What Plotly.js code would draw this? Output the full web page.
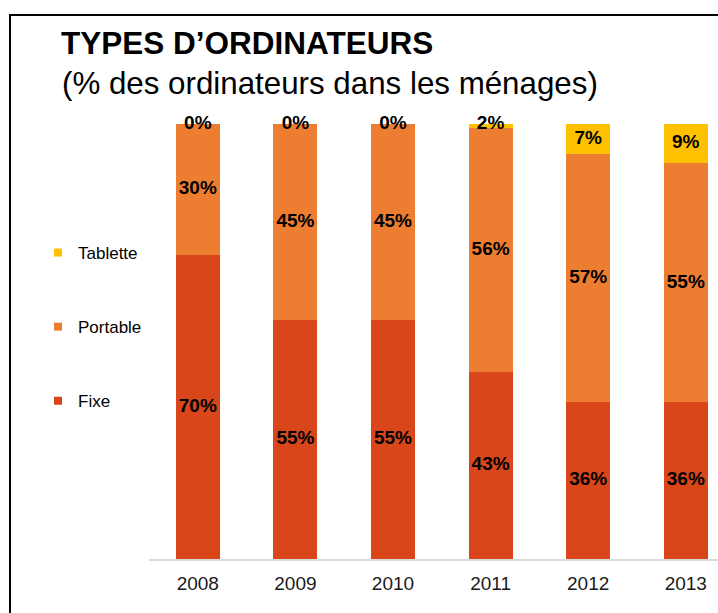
<!DOCTYPE html>
<html>
<head>
<meta charset="utf-8">
<script src="https://cdn.plot.ly/plotly-3.0.1.min.js"></script>
<style>
  html, body { margin: 0; padding: 0; background: #fff; overflow: hidden; }
  #wrap { position: relative; width: 718px; height: 613px; overflow: hidden; }
  #chart { position: absolute; left: 0; top: 0; width: 718px; height: 613px; }
  #frame { position: absolute; left: 9px; top: 14px; width: 800px; height: 700px;
           border-top: 2px solid #000; border-left: 2px solid #000; pointer-events: none; }
</style>
</head>
<body>
<div id="wrap">
  <div id="chart"></div>
  <div id="frame"></div>
</div>
<script>
// ---- data ----
const years = ['2008', '2009', '2010', '2011', '2012', '2013'];
const fixe = [70, 55, 55, 43, 36, 36];
const portable = [30, 45, 45, 56, 57, 55];
const tablette = [0, 0, 0, 2, 7, 9];
const seriesNames = ['Fixe', 'Portable', 'Tablette'];
const seriesColors = ['#D9461A', '#ED7D31', '#FFC000'];

const titleText = 'TYPES D\u2019ORDINATEURS';
const subtitleText = '(% des ordinateurs dans les m\u00e9nages)';

const sans = 'Liberation Sans, Arial, sans-serif';

// ---- derived ----
const series = [fixe, portable, tablette];
const traces = [];
const base = years.map(() => 0);
series.forEach((vals, i) => {
  traces.push({
    type: 'bar', x: years, y: vals, name: seriesNames[i],
    marker: { color: seriesColors[i] }, width: 0.45,
    showlegend: false, hoverinfo: 'skip'
  });
});
// data labels centred in each segment
series.forEach((vals, i) => {
  const centres = vals.map((v, j) => base[j] + v / 2);
  vals.forEach((v, j) => { base[j] += v; });
  traces.push({
    type: 'scatter', mode: 'text', x: years, y: centres,
    text: vals.map(v => v + '%'), textposition: 'middle center',
    textfont: { family: sans, size: 19, color: '#000', weight: 'bold' },
    cliponaxis: false, showlegend: false, hoverinfo: 'skip'
  });
});
// legend entries (Tablette on top)
series.forEach((vals, i) => {
  traces.push({
    type: 'scatter', mode: 'markers', x: [null], y: [null], name: seriesNames[i],
    legendgroup: seriesNames[i], legendrank: 3 - i,
    marker: { symbol: 'square', size: 8, color: seriesColors[i] },
    showlegend: true
  });
});

const layout = {
  width: 718, height: 613,
  margin: { l: 149, r: 0, t: 124, b: 54 },
  paper_bgcolor: '#fff', plot_bgcolor: '#fff',
  barmode: 'stack',
  title: {
    text: '<b>' + titleText + '</b>',
    font: { family: sans, size: 31.5, color: '#000' },
    xref: 'container', x: 61 / 718, xanchor: 'left',
    yref: 'container', y: 1 - 43 / 613, yanchor: 'middle'
  },
  annotations: [{
    text: subtitleText, showarrow: false,
    xref: 'paper', x: (60 - 149) / 569, xanchor: 'left',
    yref: 'paper', y: (559 - 84) / 435, yanchor: 'middle',
    font: { family: sans, size: 31.3, color: '#000' }
  }],
  xaxis: {
    type: 'category', range: [-0.5, 5.33],
    showline: true, linecolor: '#D9D9D9', linewidth: 2,
    ticks: '', showgrid: false, zeroline: false, fixedrange: true,
    ticklabelstandoff: 6,
    tickfont: { family: sans, size: 19, color: '#1a1a1a' }
  },
  yaxis: {
    range: [0, 100], visible: false, showgrid: false, zeroline: false, fixedrange: true
  },
  legend: {
    traceorder: 'grouped', tracegroupgap: 49,
    x: (38 - 149) / 569, xanchor: 'left',
    y: (559 - 235) / 435, yanchor: 'top',
    font: { family: sans, size: 17, color: '#000' },
    bgcolor: 'rgba(0,0,0,0)'
  },
  showlegend: true
};

Plotly.newPlot('chart', traces, layout, { displayModeBar: false, staticPlot: true });
</script>
</body>
</html>
